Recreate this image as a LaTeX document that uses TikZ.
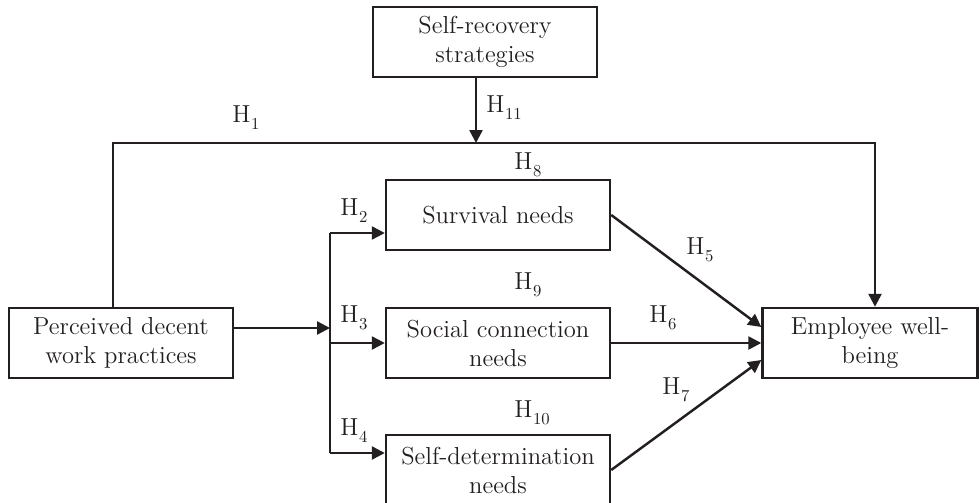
\documentclass[tikz,border=0pt]{standalone}
\usepackage{fontspec}
\usepackage{tikz}
\usetikzlibrary{arrows.meta,positioning,calc}
\definecolor{inkdark}{RGB}{35,31,32}
\newcommand{\hyp}[1]{H\kern0.4pt\raisebox{-4pt}{\fontsize{9.5}{9.5}\selectfont#1}}

\begin{document}
\begin{tikzpicture}[x=0.02cm, y=-0.02cm,
    every node/.style={font=\fontsize{14}{16.5}\selectfont, text=inkdark},
    box/.style={draw=inkdark, line width=1.4pt, minimum width=4.48cm, minimum height=1.4cm, align=center, inner sep=2pt},
    link/.style={draw=inkdark, line width=1.4pt},
    hlab/.style={inner sep=1pt},
    >={Triangle[length=2.6mm, width=2.6mm]}
]
\useasboundingbox (0,0) rectangle (980,503);

\node[box] (strat)   at (485, 42)  {Self-recovery\\strategies};
\node[box] (pdwp)    at (121, 343) {Perceived decent\\work practices};
\node[box] (surv)    at (498, 215) {Survival needs};
\node[box] (social)  at (498, 343) {Social connection\\needs};
\node[box] (selfdet) at (498, 470) {Self-determination\\needs};
\node[box, minimum width=4.3cm] (ewb) at (870, 343) {Employee well-\\being};

\coordinate (mod)   at (476, 143);
\coordinate (topL)  at (113, 143);
\coordinate (topR)  at (875, 143);
\coordinate (fork)  at (330, 328);
\coordinate (brTop) at (330, 233);
\coordinate (brBot) at (330, 453);

% direct path and moderator
\draw[link,->] (strat.south -| mod) -- (mod);
\draw[link,->] (pdwp.north -| topL) -- (topL) -- (topR) -- (ewb.north -| topR);

% predictor -> needs
\draw[link,->] (pdwp.east |- fork) -- (fork);
\draw[link] (brTop) -- (brBot);
\draw[link,->] (brTop) -- (brTop -| surv.west);
\draw[link,->] (fork |- social.west) -- (social.west);
\draw[link,->] (brBot) -- (brBot -| selfdet.west);

% needs -> well-being
\draw[link,->] (surv.east) -- ([yshift=0.32cm]ewb.west);
\draw[link,->] (social.east) -- (ewb.west);
\draw[link,->] (selfdet.east) -- ([yshift=-0.34cm]ewb.west);

\foreach \n/\x/\y in {1/246/118, 2/354/211, 3/354/318, 4/354/431, 5/700/250, 6/663/318,
                      7/676/390, 8/528/165, 9/528/285, 10/532/413, 11/504/108}
    \node[hlab] (H\n) at (\x,\y) {\hyp{\n}};
\end{tikzpicture}
\end{document}
